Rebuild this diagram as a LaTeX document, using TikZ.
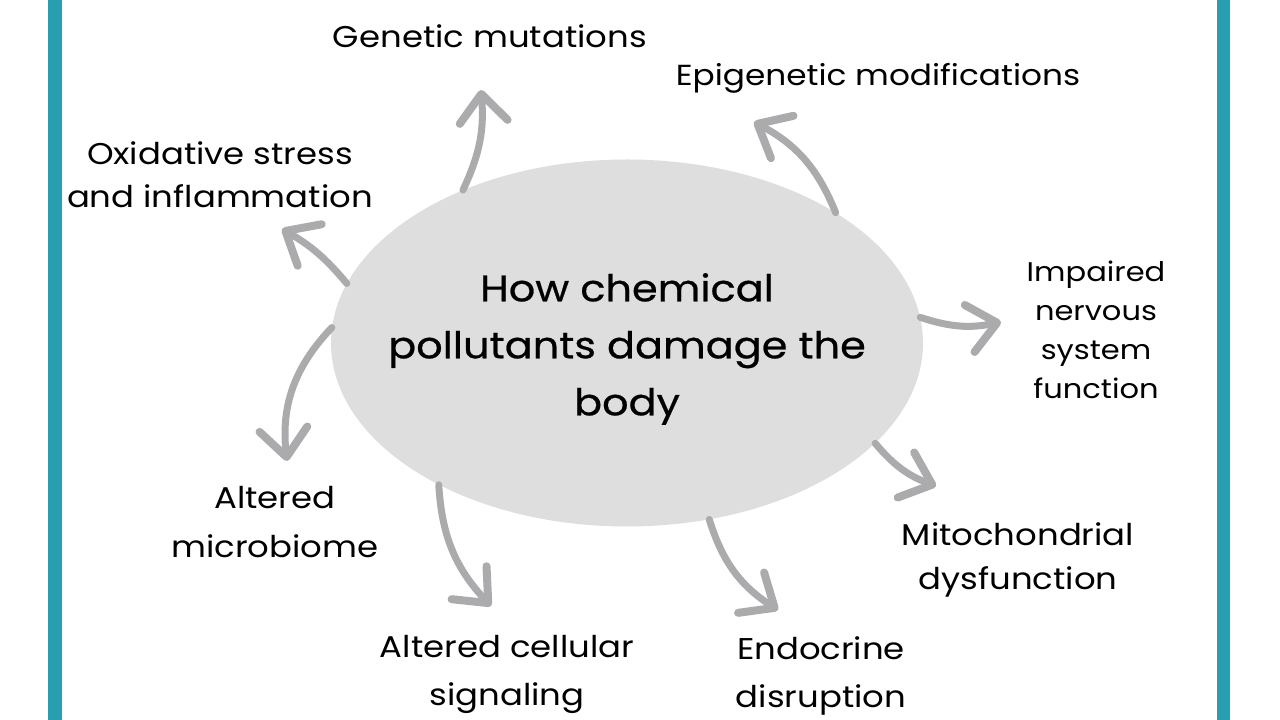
\documentclass[tikz,border=0pt]{standalone}
\usepackage{fontspec}
\setmainfont{Poppins}[FakeStretch=1.13]
\newfontfamily\grasfont{Poppins}[FakeStretch=1.12, FakeBold=0.6]
\usepackage{xcolor}
\usetikzlibrary{arrows.meta}
\usetikzlibrary{shapes.geometric}
\definecolor{bleu}{HTML}{279FB1}
\definecolor{gris}{HTML}{DEDEDE}
\definecolor{fleche}{HTML}{ABABAD}

\begin{document}
\begin{tikzpicture}[
        x=1pt, y=1pt,
        >={Straight Barb[length=28pt, width=48pt, line width=8pt, round]},
        centre/.style={ellipse, fill=gris, minimum width=592pt, minimum height=367pt, inner sep=0pt},
        etiquette/.style={align=center, inner sep=0pt, font=\fontsize{30}{44}\selectfont},
        every edge/.append style={draw=fleche, line width=7pt, ->, line cap=round}
    ]
    \useasboundingbox (0,0) rectangle (1280,720);

    % -- Bandes laterales --
    \fill[bleu] (48,0) rectangle (62,720);
    \fill[bleu] (1217,0) rectangle (1230,720);

    % -- Position des noeuds --
    \node[centre] (c) at (627,377) {};
    \node[align=center, font=\grasfont\fontsize{37}{57}\selectfont] (titre) at (627,371)
        {How chemical\\pollutants damage the\\body};
    \node[etiquette] (gen) at (490,684) {Genetic mutations};
    \node[etiquette, font=\fontsize{29}{44}\selectfont] (epi) at (878,642) {Epigenetic modifications};
    \node[etiquette, font=\fontsize{30}{43}\selectfont] (oxi) at (220,545) {Oxidative stress\\and inflammation};
    \node[etiquette, font=\fontsize{27}{39}\selectfont] (imp) at (1096,390) {Impaired\\nervous\\system\\function};
    \node[etiquette] (mito) at (1018,160) {Mitochondrial\\dysfunction};
    \node[etiquette, font=\fontsize{30}{48}\selectfont] (endo) at (821,44) {Endocrine\\disruption};
    \node[etiquette, font=\fontsize{30}{48}\selectfont] (cell) at (507,46) {Altered cellular\\signaling};
    \node[etiquette, font=\fontsize{30}{49}\selectfont] (micro) at (275,198) {Altered\\microbiome};

    % -- Pointes des fleches --
    \coordinate (tgen) at (481,630);
    \coordinate (tepi) at (754,598);
    \coordinate (toxi) at (282,491);
    \coordinate (timp) at (1001,398);
    \coordinate (tmito) at (936,234);
    \coordinate (tendo) at (778,110);
    \coordinate (tcell) at (491,114);
    \coordinate (tmicro) at (287,259);

    % -- Position des arcs --
    % c -> gen :
    \path (c.137) edge[bend right=15] (tgen);

    % c -> epi :
    \path (c.32) edge[bend right=20] (tepi);

    % c -> oxi :
    \path (c.168) edge[bend right=10] (toxi);

    % c -> imp :
    \path (c.5) edge[bend right=15] (timp);

    % c -> mito :
    \path (c.-22) edge[bend right=15] (tmito);

    % c -> endo :
    \path (c.-65) edge[bend right=20] (tendo);

    % c -> cell :
    \path (c.217) edge[bend right=20] (tcell);

    % c -> micro :
    \path (c.177) edge[bend right=25] (tmicro);

\end{tikzpicture}
\end{document}
